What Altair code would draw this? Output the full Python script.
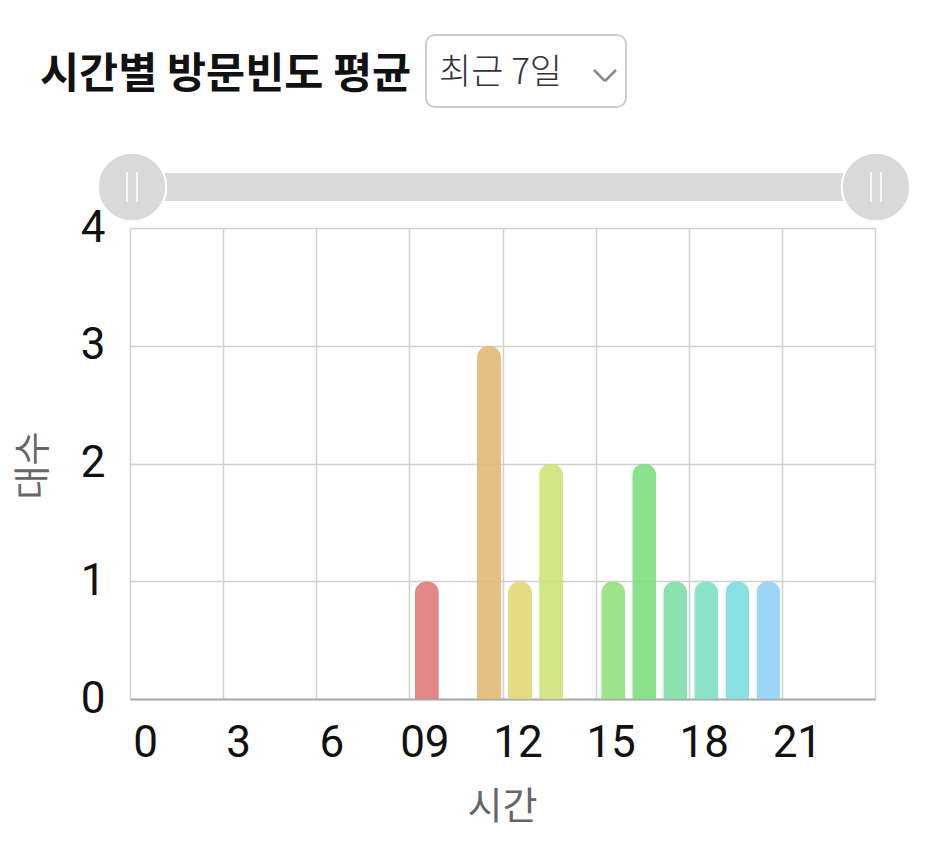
import altair as alt
import pandas as pd

# ---- data ----
hours = [9, 11, 12, 13, 15, 16, 17, 18, 19, 20]
counts = [1, 3, 1, 2, 1, 2, 1, 1, 1, 1]
bar_colors = ["#e07b7b", "#e3b878", "#e3d774", "#cde27a", "#93e07c", "#7ddf83",
              "#7ddfa5", "#7ddfc3", "#7ddcdf", "#90d2f6"]
tick_values = [0, 3, 6, 9, 12, 15, 18, 21, 24]
tick_labels = ["0", "3", "6", "09", "12", "15", "18", "21", ""]
y_ticks = [0, 1, 2, 3, 4]
title_text = "시간별 방문빈도 평균"
dropdown_text = "최근 7일"
x_title = "시간"
y_title = "대수"

KR = "Noto Sans CJK KR"
NUM = "Roboto"

df = pd.DataFrame({"hour": hours, "count": counts, "color": bar_colors})

W, H = 745, 471

label_expr = "[" + ",".join("'%s'" % s for s in tick_labels) + "][indexof([" + \
    ",".join(str(v) for v in tick_values) + "], datum.value)]"

bars = alt.Chart(df).transform_calculate(
    center="datum.hour + 0.5"
).mark_bar(
    size=24, cornerRadiusTopLeft=12, cornerRadiusTopRight=12, opacity=0.9, xOffset=2
).encode(
    x=alt.X("center:Q", scale=alt.Scale(domain=[0, 24], nice=False, zero=False, padding=0),
            axis=alt.Axis(values=tick_values, labelExpr=label_expr, title=None,
                          labelFont=NUM, labelFontSize=44, labelColor="#111",
                          labelOffset=15, labelAlign="center", labelBaseline="top",
                          labelPadding=22, labelFlush=False, labelOverlap=False,
                          ticks=False, domain=True,
                          domainColor="#aaaaaa", domainWidth=2,
                          grid=True, gridColor="#d0d0d0", gridWidth=1.5)),
    y=alt.Y("count:Q", scale=alt.Scale(domain=[0, 4], nice=False, padding=0),
            axis=alt.Axis(values=y_ticks, title=None, labelFont=NUM, labelFontSize=44,
                          labelColor="#111", labelPadding=25, ticks=False, domain=False,
                          grid=True, gridColor="#d0d0d0", gridWidth=1.5)),
    color=alt.Color("color:N", scale=None),
)

dummy = pd.DataFrame({"a": [0]})
base = alt.Chart(dummy)

x_title_mark = base.mark_text(text=x_title, font=KR, fontSize=38, color="#666666",
                              align="center", baseline="middle").encode(
    x=alt.value(W / 2), y=alt.value(580))
y_title_mark = base.mark_text(text=y_title, font=KR, fontSize=37, color="#666666",
                              align="center", baseline="middle", angle=270).encode(
    x=alt.value(-95), y=alt.value(H / 2 + 2))

title = base.mark_text(text=title_text, font=KR, fontSize=42.5, fontWeight="bold",
                       align="left", baseline="middle", color="#111").encode(
    x=alt.value(-90), y=alt.value(-153))

dd_box = base.mark_rect(fill="white", stroke="#cccccc", strokeWidth=2, cornerRadius=9).encode(
    x=alt.value(296), x2=alt.value(496), y=alt.value(-193), y2=alt.value(-121))
dd_text = base.mark_text(text=dropdown_text, font=KR, fontSize=35, fontWeight=300,
                         align="left", baseline="middle", color="#333333").encode(
    x=alt.value(309), y=alt.value(-155))
chev1 = base.mark_rule(color="#888888", strokeWidth=2.5).encode(
    x=alt.value(464), x2=alt.value(475), y=alt.value(-158), y2=alt.value(-147))
chev2 = base.mark_rule(color="#888888", strokeWidth=2.5).encode(
    x=alt.value(475), x2=alt.value(486), y=alt.value(-147), y2=alt.value(-158))

slider_bar = base.mark_rect(fill="#d9d9d9").encode(
    x=alt.value(2), x2=alt.value(746), y=alt.value(-55), y2=alt.value(-27))
handle_l = base.mark_point(shape="circle", filled=True, fill="#d9d9d9", stroke="white",
                           strokeWidth=2, size=4700, opacity=1).encode(
    x=alt.value(2), y=alt.value(-41))
handle_r = base.mark_point(shape="circle", filled=True, fill="#d9d9d9", stroke="white",
                           strokeWidth=2, size=4700, opacity=1).encode(
    x=alt.value(746), y=alt.value(-41))
grips = []
for cx in (2, 746):
    for dx in (-5, 5):
        grips.append(base.mark_rule(color="white", strokeWidth=1.5).encode(
            x=alt.value(cx + dx), x2=alt.value(cx + dx), y=alt.value(-56), y2=alt.value(-26)))

chart = alt.layer(
    bars, x_title_mark, y_title_mark, title, dd_box, dd_text, chev1, chev2,
    slider_bar, handle_l, handle_r, *grips
).properties(
    width=W, height=H,
    autosize=alt.AutoSizeParams(type="none"),
    padding={"left": 122, "top": 220, "right": 43, "bottom": 140},
).configure_view(stroke=None)

chart.save("out.html", embed_options={"renderer": "svg", "actions": False})
